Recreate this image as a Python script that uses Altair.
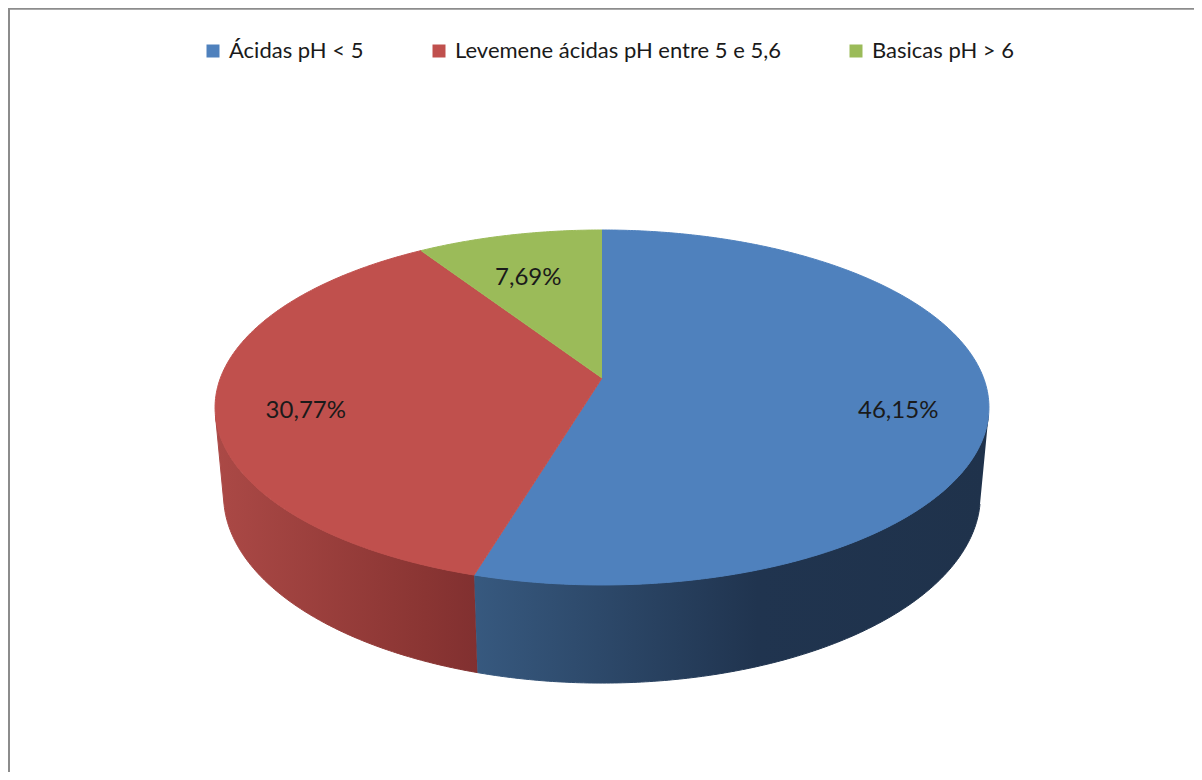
import math
import altair as alt
import pandas as pd

# ---- data ----
categorias = ["Ácidas pH < 5", "Levemene ácidas pH entre 5 e 5,6", "Basicas pH > 6"]
valores = [46.15, 30.77, 7.69]
rotulos = ["46,15%", "30,77%", "7,69%"]

# ---- style ----
cores = ["#4f81bd", "#c0504d", "#9bbb59"]
lados = {
    "Ácidas pH < 5": [("#37597f", 0.0), ("#20344f", 0.55), ("#1f324b", 1.0)],
    "Levemene ácidas pH entre 5 e 5,6": [("#ab4946", 0.0), ("#8a3533", 0.8), ("#813030", 1.0)],
}

df = pd.DataFrame({"categoria": categorias, "valor": valores,
                   "rotulo": rotulos, "ordem": list(range(len(valores)))})

W, HGT = 1184, 762
CX, CY = 592, 368          # centre of the pie inside the plot area
# 3-D perspective view of the pie
F, L, SA, CA, H = 2049.0, 5.37, 0.4523, 0.892, 0.26
PHMIN = math.acos(-1.0 / (L * CA))
PHMAX = 2 * math.pi - PHMIN
RL = 0.77

xs = alt.Scale(domain=[-CX, W - CX], nice=False, zero=False)
ys = alt.Scale(domain=[-CY, HGT - CY], nice=False, zero=False, reverse=True)
cscale = alt.Scale(domain=categorias, range=cores)

base = alt.Chart(df).transform_window(
    cum="sum(valor)", sort=[alt.SortField("ordem", order="ascending")], frame=[None, 0]
).transform_joinaggregate(total="sum(valor)").transform_calculate(
    a0="2*PI*(datum.cum - datum.valor)/datum.total"
).transform_calculate(
    a1="2*PI*datum.cum/datum.total"
)

X = alt.X("px:Q", scale=xs, axis=None)
Y = alt.Y("py:Q", scale=ys, axis=None)

# ---- top face ----
top = base.transform_calculate(
    n="ceil((datum.a1 - datum.a0)*180/PI*2)"
).transform_calculate(
    k="sequence(0, datum.n + 2)"
).transform_flatten(["k"]).transform_calculate(
    phi="datum.a0 + (datum.a1 - datum.a0)*(datum.k - 1)/datum.n"
).transform_calculate(
    u="datum.k == 0 ? 0 : sin(datum.phi)"
).transform_calculate(
    v="datum.k == 0 ? 0 : -cos(datum.phi)"
).transform_calculate(
    d=f"{L} - datum.v*{CA}"
).transform_calculate(
    px=f"{F}*datum.u/datum.d"
).transform_calculate(
    py=f"{F}*datum.v*{SA}/datum.d"
).mark_line(filled=True, strokeWidth=1, interpolate="linear").encode(
    x=X, y=Y,
    color=alt.Color(
        "categoria:N", scale=cscale, sort=categorias,
        legend=alt.Legend(
            title=None, orient="none", legendX=192, legendY=30,
            direction="horizontal", symbolType="square", symbolSize=169,
            symbolStrokeWidth=0, labelFont="Lato", labelFontSize=22,
            labelColor="#1a1a1a", labelOffset=5, columnPadding=64,
            padding=0, labelLimit=800,
        ),
    ),
    stroke=alt.Stroke("categoria:N", scale=cscale, legend=None),
    order=alt.Order("k:Q"),
)

# ---- side walls ----
side = base.transform_calculate(
    b0=f"max(datum.a0, {PHMIN})"
).transform_calculate(
    b1=f"min(datum.a1, {PHMAX})"
).transform_filter("datum.b1 > datum.b0").transform_calculate(
    n="ceil((datum.b1 - datum.b0)*180/PI*2)"
).transform_calculate(
    k="sequence(0, datum.n + 1)"
).transform_flatten(["k"]).transform_calculate(
    lado="[0, 1]"
).transform_flatten(["lado"]).transform_calculate(
    phi="datum.b0 + (datum.b1 - datum.b0)*datum.k/datum.n"
).transform_calculate(
    z=f"datum.lado == 0 ? 0 : -{H}"
).transform_calculate(
    o="datum.lado == 0 ? datum.k : 2*datum.n + 1 - datum.k"
).transform_calculate(
    u="sin(datum.phi)"
).transform_calculate(
    v="-cos(datum.phi)"
).transform_calculate(
    d=f"{L} - datum.v*{CA} - datum.z*{SA}"
).transform_calculate(
    px=f"{F}*datum.u/datum.d"
).transform_calculate(
    py=f"{F}*(datum.v*{SA} - datum.z*{CA})/datum.d"
)

side_layers = []
for cat, stops in lados.items():
    grad = alt.LinearGradient(
        gradient="linear",
        stops=[alt.GradientStop(color=c, offset=o) for c, o in stops],
        x1=0, x2=1, y1=0, y2=0,
    )
    side_layers.append(
        side.transform_filter(alt.datum.categoria == cat)
        .mark_line(filled=True, fill=grad, stroke=grad, strokeWidth=1)
        .encode(x=X, y=Y, order=alt.Order("o:Q"))
    )

# ---- data labels ----
labels = base.transform_calculate(
    m="(datum.a0 + datum.a1)/2"
).transform_calculate(
    u=f"{RL}*sin(datum.m)"
).transform_calculate(
    v=f"-{RL}*cos(datum.m)"
).transform_calculate(
    d=f"{L} - datum.v*{CA}"
).transform_calculate(
    px=f"{F}*datum.u/datum.d"
).transform_calculate(
    py=f"{F}*datum.v*{SA}/datum.d"
).mark_text(font="Lato", fontSize=24, color="#1a1a1a", dy=14).encode(
    x=X, y=Y, text="rotulo:N"
)

# ---- chart frame ----
frame_df = pd.DataFrame({"b": [0]})
frame_top = alt.Chart(frame_df).mark_rule(color="#8c8c8c", strokeWidth=2).encode(
    x=alt.value(-2), x2=alt.value(W), y=alt.value(-1.3)
)
frame_left = alt.Chart(frame_df).mark_rule(color="#8c8c8c", strokeWidth=2).encode(
    x=alt.value(-1), y=alt.value(-2.3), y2=alt.value(HGT)
)

chart = alt.layer(*side_layers, top, labels, frame_top, frame_left).properties(
    width=W, height=HGT,
    autosize=alt.AutoSizeParams(type="none"),
    padding={"left": 2, "top": 2, "right": 0, "bottom": 0},
    background="white",
).configure_view(stroke=None)

chart.save("out.html", embed_options={"renderer": "svg", "actions": False})
